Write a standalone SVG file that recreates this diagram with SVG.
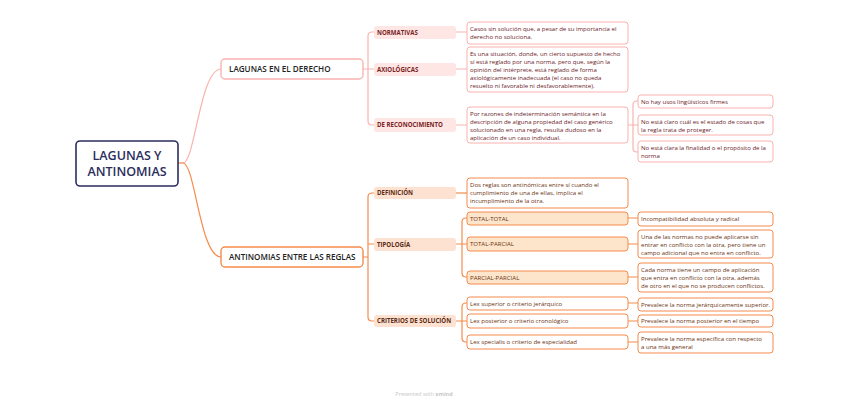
<svg xmlns="http://www.w3.org/2000/svg" width="848" height="405" viewBox="0 0 848 405">
<style>
text{font-family:"Open Sans","Liberation Sans",sans-serif;}
.root{fill:#fff;stroke:#2b2d5c;stroke-width:1.6}
.rootT{font-size:12.5px;font-weight:600;fill:#2b2d5c;text-anchor:middle}
.b1{fill:#fff;stroke:#f9b3ae;stroke-width:1.4}
.b2{fill:#fff;stroke:#f58b4c;stroke-width:1.4}
.bT{font-size:8.1px;font-weight:600;fill:#222;}
.s1{fill:#fde6e4}
.s2{fill:#fde2d2}
.s1T{font-size:6.1px;font-weight:700;fill:#7a1f24}
.s2T{font-size:6.1px;font-weight:700;fill:#5c2a12}
.p{fill:#fff;stroke:#f9b3ae;stroke-width:1}
.o{fill:#fff;stroke:#f58b4c;stroke-width:1}
.of{fill:#fde5cc;stroke:#f58b4c;stroke-width:1}
.pT{font-size:6.05px;fill:#6b1a1f}
.oT{font-size:6.05px;fill:#6b3210}
.c1{fill:none;stroke:#f9b3ae;stroke-width:1.2}
.c2{fill:none;stroke:#f58b4c;stroke-width:1.2}
</style>
<rect width="848" height="405" fill="#fff"/>
<g id="connectors">
<path class="c1" d="M178,163 H183 C195,163 200,69 221,69"/>
<path class="c2" d="M178,163 H183 C195,163 200,257 221,257"/>
<path class="c1" d="M363,69 H374 M374,32 H372 Q368,32 368,36 V121 Q368,125 372,125 H374"/>
<path class="c1" d="M456,32 H467 M456,69 H467 M456,125 H467"/>
<path class="c1" d="M628,125 H633 M638,101 H637 Q633,101 633,105 V148 Q633,152 637,152 H638 M633,125 H638"/>
<path class="c2" d="M363,257 H368 M374,193 H372 Q368,193 368,197 V317 Q368,321 372,321 H374 M368,244 H374"/>
<path class="c2" d="M456,193 H467"/>
<path class="c2" d="M456,244 H467 M467,218 H466 Q462,218 462,222 V273 Q462,277 466,277 H467"/>
<path class="c2" d="M456,321 H467 M467,303 H466 Q462,303 462,307 V338 Q462,342 466,342 H467"/>
<path class="c2" d="M628,218 H638 M628,244 H638 M628,277 H638 M628,303 H638 M628,321 H638 M628,342 H638"/>
</g>
<g id="root">
<rect class="root" x="76" y="141" width="102" height="45" rx="4"/>
<text class="rootT" x="127" y="160">LAGUNAS Y</text>
<text class="rootT" x="127" y="176">ANTINOMIAS</text>
</g>
<g id="lagunas">
<rect class="b1" x="221" y="59" width="142" height="20" rx="4"/>
<text class="bT" x="229" y="72">LAGUNAS EN EL DERECHO</text>
</g>
<g id="normativas">
<rect class="s1" x="374" y="26" width="82" height="13" rx="3"/>
<text class="s1T" x="377" y="34.8">NORMATIVAS</text>
</g>
<g id="axiologicas">
<rect class="s1" x="374" y="63" width="82" height="13" rx="3"/>
<text class="s1T" x="377" y="71.8">AXIOLÓGICAS</text>
</g>
<g id="reconocimiento">
<rect class="s1" x="374" y="118" width="82" height="14" rx="3"/>
<text class="s1T" x="377" y="127.3">DE RECONOCIMIENTO</text>
</g>
<g id="normativas-desc">
<rect class="p" x="467" y="22" width="161" height="22" rx="3"/>
<text class="pT" x="470" y="31">Casos sin solución que, a pesar de su importancia el</text>
<text class="pT" x="470" y="39">derecho no soluciona.</text>
</g>
<g id="axiologicas-desc">
<rect class="p" x="467" y="47" width="161" height="45" rx="3"/>
<text class="pT" x="470" y="56">Es una situación, donde, un cierto supuesto de hecho</text>
<text class="pT" x="470" y="64">sí está reglado por una norma, pero que, según la</text>
<text class="pT" x="470" y="72">opinión del intérprete, está reglado de forma</text>
<text class="pT" x="470" y="80">axiológicamente inadecuada (el caso no queda</text>
<text class="pT" x="470" y="88">resuelto ni favorable ni desfavorablemente).</text>
</g>
<g id="reconocimiento-desc">
<rect class="p" x="467" y="107" width="161" height="36" rx="3"/>
<text class="pT" x="470" y="116">Por razones de indeterminación semántica en la</text>
<text class="pT" x="470" y="124">descripción de alguna propiedad del caso genérico</text>
<text class="pT" x="470" y="132">solucionado en una regla, resulta dudoso en la</text>
<text class="pT" x="470" y="140">aplicación de un caso individual.</text>
</g>
<g id="usos">
<rect class="p" x="638" y="95" width="135" height="13" rx="3"/>
<text class="pT" x="641" y="104">No hay usos lingüísticos firmes</text>
</g>
<g id="estado">
<rect class="p" x="638" y="115" width="135" height="20" rx="3"/>
<text class="pT" x="641" y="123.5">No está claro cuál es el estado de cosas que</text>
<text class="pT" x="641" y="131.5">la regla trata de proteger.</text>
</g>
<g id="finalidad">
<rect class="p" x="638" y="141" width="135" height="21" rx="3"/>
<text class="pT" x="641" y="149.5">No está clara la finalidad o el propósito de la</text>
<text class="pT" x="641" y="157.5">norma</text>
</g>
<g id="antinomias">
<rect class="b2" x="221" y="247" width="142" height="20" rx="4"/>
<text class="bT" x="229" y="260">ANTINOMIAS ENTRE LAS REGLAS</text>
</g>
<g id="definicion">
<rect class="s2" x="374" y="187" width="82" height="12" rx="3"/>
<text class="s2T" x="377" y="195.3">DEFINICIÓN</text>
</g>
<g id="tipologia">
<rect class="s2" x="374" y="238" width="82" height="13" rx="3"/>
<text class="s2T" x="377" y="246.8">TIPOLOGÍA</text>
</g>
<g id="criterios">
<rect class="s2" x="374" y="315" width="82" height="12" rx="3"/>
<text class="s2T" x="377" y="323.3">CRITERIOS DE SOLUCIÓN</text>
</g>
<g id="definicion-desc">
<rect class="o" x="467" y="178" width="161" height="30" rx="3"/>
<text class="oT" x="470" y="187">Dos reglas son antinómicas entre sí cuando el</text>
<text class="oT" x="470" y="195">cumplimiento de una de ellas, implica el</text>
<text class="oT" x="470" y="203">incumplimiento de la otra.</text>
</g>
<g id="total-total">
<rect class="of" x="467" y="212" width="161" height="13" rx="3"/>
<text class="oT" x="470" y="220.8">TOTAL-TOTAL</text>
</g>
<g id="total-parcial">
<rect class="of" x="467" y="237" width="161" height="14" rx="3"/>
<text class="oT" x="470" y="246.3">TOTAL-PARCIAL</text>
</g>
<g id="parcial-parcial">
<rect class="of" x="467" y="271" width="161" height="13" rx="3"/>
<text class="oT" x="470" y="279.8">PARCIAL-PARCIAL</text>
</g>
<g id="incompatibilidad">
<rect class="o" x="638" y="212" width="135" height="14" rx="3"/>
<text class="oT" x="641" y="221.2">Incompatibilidad absoluta y radical</text>
</g>
<g id="una-norma">
<rect class="o" x="638" y="230" width="135" height="28" rx="3"/>
<text class="oT" x="641" y="238.5">Una de las normas no puede aplicarse sin</text>
<text class="oT" x="641" y="246.5">entrar en conflicto con la otra, pero tiene un</text>
<text class="oT" x="641" y="254.5">campo adicional que no entra en conflicto.</text>
</g>
<g id="cada-norma">
<rect class="o" x="638" y="263" width="135" height="29" rx="3"/>
<text class="oT" x="641" y="271.5">Cada norma tiene un campo de aplicación</text>
<text class="oT" x="641" y="279.5">que entra en conflicto con la otra, además</text>
<text class="oT" x="641" y="287.5">de otro en el que no se producen conflictos.</text>
</g>
<g id="lex-superior">
<rect class="o" x="467" y="297" width="161" height="13" rx="3"/>
<text class="oT" x="470" y="305.5">Lex superior o criterio jerárquico</text>
</g>
<g id="lex-posterior">
<rect class="o" x="467" y="314" width="161" height="14" rx="3"/>
<text class="oT" x="470" y="323">Lex posterior o criterio cronológico</text>
</g>
<g id="lex-specialis">
<rect class="o" x="467" y="335" width="161" height="14" rx="3"/>
<text class="oT" x="470" y="344">Lex specialis o criterio de especialidad</text>
</g>
<g id="prevalece-superior">
<rect class="o" x="638" y="298" width="135" height="13" rx="3"/>
<text class="oT" x="641" y="306.5">Prevalece la norma jerárquicamente superior.</text>
</g>
<g id="prevalece-posterior">
<rect class="o" x="638" y="315" width="135" height="12" rx="3"/>
<text class="oT" x="641" y="323.3">Prevalece la norma posterior en el tiempo</text>
</g>
<g id="prevalece-especifica">
<rect class="o" x="638" y="332" width="135" height="21" rx="3"/>
<text class="oT" x="641" y="340.5">Prevalece la norma específica con respecto</text>
<text class="oT" x="641" y="348.5">a una más general</text>
</g>
<text x="424" y="396" font-size="5.5" fill="#c8c8c8" text-anchor="middle">Presented with <tspan font-weight="700">xmind</tspan></text>
</svg>
